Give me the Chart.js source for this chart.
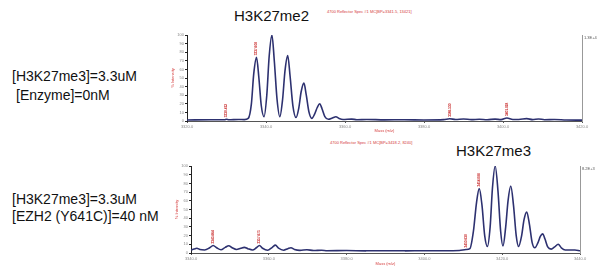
<!DOCTYPE html>
<html>
  <head>
    <meta charset="UTF-8" />
    <title>mass spectra</title>
    <script src="https://cdn.jsdelivr.net/npm/chart.js@4.4.0/dist/chart.umd.min.js"></script>
    <style>
      body { margin: 0; background: #fff; font-family: "Liberation Sans", Arial, sans-serif; }
      #page { position: relative; width: 600px; height: 266px; overflow: hidden; }
      .txt { position: absolute; white-space: nowrap; color: #111; line-height: 1; }
      .red { position: absolute; white-space: nowrap; color: #d43a3a; font-size: 4px; line-height: 1; }
      canvas { position: absolute; }
    </style>
    <script>
      // top spectrum: no enzyme
      const topMz = [3320, 3326, 3329.5, 3330, 3330.6, 3333, 3334.5, 3335.5, 3336.3, 3336.9, 3337.6, 3338.2, 3338.8,
        3339.5, 3340.2, 3340.8, 3341.5, 3342.1, 3342.8, 3343.5, 3344.2, 3344.8, 3345.5, 3346.1, 3346.8, 3347.6,
        3348.3, 3348.9, 3349.6, 3350.2, 3350.9, 3351.6, 3352.3, 3353.0, 3353.6, 3354.2, 3354.9, 3355.8, 3356.8,
        3357.7, 3358.5, 3359.5, 3361.7, 3363, 3365.5, 3370, 3375, 3380, 3385, 3386.5, 3388, 3390, 3392, 3394,
        3396, 3398, 3399.5, 3401, 3402.5, 3404, 3406, 3407.5, 3409, 3410.5, 3413, 3416, 3420]
      const topIntensity = [1.2, 1.5, 1.4, 2.0, 1.4, 1.8, 1.6, 3, 20, 55, 74, 50, 18,
        5, 30, 75, 100, 70, 25, 5, 25, 58, 76, 52, 18, 4,
        15, 34, 44, 30, 10, 3, 8, 16, 20, 14, 5, 2, 3.5,
        5, 3, 1.8, 2.2, 1.5, 1.8, 1.3, 1.5, 1.2, 1.6, 2.6, 1.8, 2.3, 1.6, 2.0,
        1.5, 2.2, 1.6, 3.5, 1.8, 1.8, 2.8, 1.6, 2.4, 1.5, 1.8, 1.2, 1.0]
      const topTicks = [3320, 3340, 3360, 3380, 3400, 3420]
      const topMarkX = [3330, 3337.6, 3386.5, 3401]
      const topMarkY = [2.0, 74, 2.6, 3.5]
      const topMarkText = ['3330.412', '3337.608', '3386.530', '3401.028']

      // bottom spectrum: EZH2 (Y641C)
      const botMz = [3340, 3340.8, 3341.5, 3342.3, 3343.5, 3344.8, 3345.7, 3346.6, 3347.7, 3348.8, 3349.7, 3350.6,
        3351.7, 3352.8, 3353.7, 3354.6, 3355.8, 3356.8, 3357.6, 3358.4, 3359.7, 3360.9, 3361.7, 3362.5, 3363.8,
        3364.9, 3365.7, 3366.6, 3368, 3369.8, 3371.5, 3373.6, 3375, 3380, 3385, 3390, 3395, 3400, 3405, 3409,
        3410.7, 3411.7, 3412.6, 3413.4, 3414.1, 3414.8, 3415.5, 3416.2, 3416.9, 3417.5, 3418.2, 3418.9, 3419.6,
        3420.2, 3420.9, 3421.5, 3422.2, 3422.9, 3423.6, 3424.2, 3425.0, 3425.6, 3426.3, 3427.0, 3427.7, 3428.4,
        3429.2, 3429.8, 3430.4, 3431.0, 3431.7, 3432.6, 3433.5, 3434.4, 3435.2, 3436.2, 3437.5, 3438.7, 3440]
      const botIntensity = [3.5, 4.5, 5.5, 4, 3.5, 6, 8.7, 6, 3.8, 6.5, 8.4, 6,
        4, 5.5, 6.5, 5, 3.5, 6, 8.7, 5.5, 3.2, 6.5, 9, 5.5, 3.2,
        5, 6, 4, 3, 3.8, 2.8, 3.2, 2.6, 2.8, 2.5, 2.6, 2.5, 2.6, 2.5, 2.8,
        4, 5, 25, 58, 74, 55, 20, 7.5, 30, 75, 100, 72, 25,
        8, 30, 60, 77, 55, 20, 7.5, 20, 38, 47, 33, 12, 6,
        12, 19, 22, 16, 7, 4.5, 7, 10, 6, 3.5, 3.5, 3.5, 2.5]
      const botTicks = [3340, 3360, 3380, 3400, 3420, 3440]
      const botMarkX = [3345.7, 3357.6, 3410.7, 3414.1]
      const botMarkY = [8.7, 8.7, 4, 74]
      const botMarkText = ['3345.664', '3357.671', '3410.630', '3414.088']

      const yTicks = [0, 10, 20, 30, 40, 50, 60, 70, 80, 90, 100]

      const peakLabels = {
        id: 'peakLabels',
        afterDatasetsDraw(chart, args, opts) {
          const ctx = chart.ctx
          const xs = chart.scales.x
          const ys = chart.scales.y
          ctx.save()
          ctx.fillStyle = '#c82828'
          ctx.font = 'bold 3.2px Arial'
          ctx.textBaseline = 'middle'
          ctx.textAlign = 'left'
          opts.xs.forEach((v, i) => {
            ctx.save()
            ctx.translate(xs.getPixelForValue(v), ys.getPixelForValue(opts.ys[i]) - 2)
            ctx.rotate(-Math.PI / 2)
            ctx.fillText(opts.texts[i], 0, 0)
            ctx.restore()
          })
          // scale label at top right
          ctx.fillStyle = '#555'
          ctx.font = '4px Arial'
          ctx.textBaseline = 'top'
          ctx.fillText(opts.corner, chart.chartArea.right + 2, chart.chartArea.top + 1)
          ctx.restore()
        }
      }

      const draw = function (id, mz, intensity, ticks, mx, my, mt, corner, pad, xh) {
        const context = document.querySelector(id).getContext('2d')
        const points = mz.map((m, i) => ({ x: m, y: intensity[i] }))
        return new Chart(context, {
          type: 'line',
          data: {
            datasets: [{
              data: points,
              borderColor: '#2d3170',
              borderWidth: 1.6,
              pointRadius: 0,
              tension: 0.4,
              cubicInterpolationMode: 'monotone',
              fill: false
            }]
          },
          options: {
            responsive: false,
            animation: false,
            layout: { padding: pad },
            plugins: {
              legend: { display: false },
              tooltip: { enabled: false },
              peakLabels: { xs: mx, ys: my, texts: mt, corner: corner }
            },
            scales: {
              x: {
                type: 'linear',
                min: ticks[0],
                max: ticks[ticks.length - 1],
                afterBuildTicks: (s) => { s.ticks = ticks.map(v => ({ value: v })) },
                afterFit: (s) => { s.height = xh },
                border: { color: '#555', width: 1 },
                grid: { drawOnChartArea: false, tickLength: 2, color: '#555' },
                ticks: { font: { size: 4 }, color: '#888', padding: 1, maxRotation: 0,
                  callback: (v) => v.toFixed(1) },
                title: { display: true, text: 'Mass (m/z)', color: '#d43a3a', font: { size: 4 }, padding: 0 }
              },
              y: {
                min: 0,
                max: 100,
                afterBuildTicks: (s) => { s.ticks = yTicks.map(v => ({ value: v })) },
                afterFit: (s) => { s.width = 17 },
                border: { color: '#222', width: 1 },
                grid: { drawOnChartArea: false, tickLength: 2, color: '#222' },
                ticks: { font: { size: 4 }, color: '#888', padding: 1 },
                title: { display: true, text: '% Intensity', color: '#d43a3a', font: { size: 4 }, padding: 0 }
              },
              y1: {
                position: 'right',
                min: 0,
                max: 100,
                afterFit: (s) => { s.width = 0 },
                border: { color: '#999', width: 1 },
                grid: { display: false },
                ticks: { display: false }
              }
            }
          },
          plugins: [peakLabels]
        })
      }

      window.onload = function () {
        draw('#top', topMz, topIntensity, topTicks, topMarkX, topMarkY, topMarkText, '1.3E+4',
          { left: 0, right: 18, top: 7, bottom: 0 }, 12)
        draw('#bot', botMz, botIntensity, botTicks, botMarkX, botMarkY, botMarkText, '8.2E+3',
          { left: 4, right: 20, top: 8, bottom: 0 }, 13)
      }
    </script>
  </head>
  <body>
    <div id="page">
      <div class="txt" style="left:234px; top:8px; font-size:15px;">H3K27me2</div>
      <div class="red" style="left:327px; top:10px;">4700 Reflector Spec #1 MC[BP=3341.5, 13421]</div>
      <div class="txt" style="left:12px; top:69px; font-size:14px;">[H3K27me3]=3.3uM</div>
      <div class="txt" style="left:16px; top:88px; font-size:14px;">[Enzyme]=0nM</div>
      <canvas id="top" width="430" height="105" style="left:170px; top:28px;"></canvas>

      <div class="red" style="left:330px; top:141px;">4700 Reflector Spec #1 MC[BP=3418.2, 8240]</div>
      <div class="txt" style="left:456px; top:143px; font-size:15px;">H3K27me3</div>
      <div class="txt" style="left:12px; top:192px; font-size:14px;">[H3K27me3]=3.3uM</div>
      <div class="txt" style="left:12px; top:209px; font-size:14px;">[EZH2 (Y641C)]=40 nM</div>
      <canvas id="bot" width="430" height="108" style="left:170px; top:158px;"></canvas>
    </div>
  </body>
</html>
